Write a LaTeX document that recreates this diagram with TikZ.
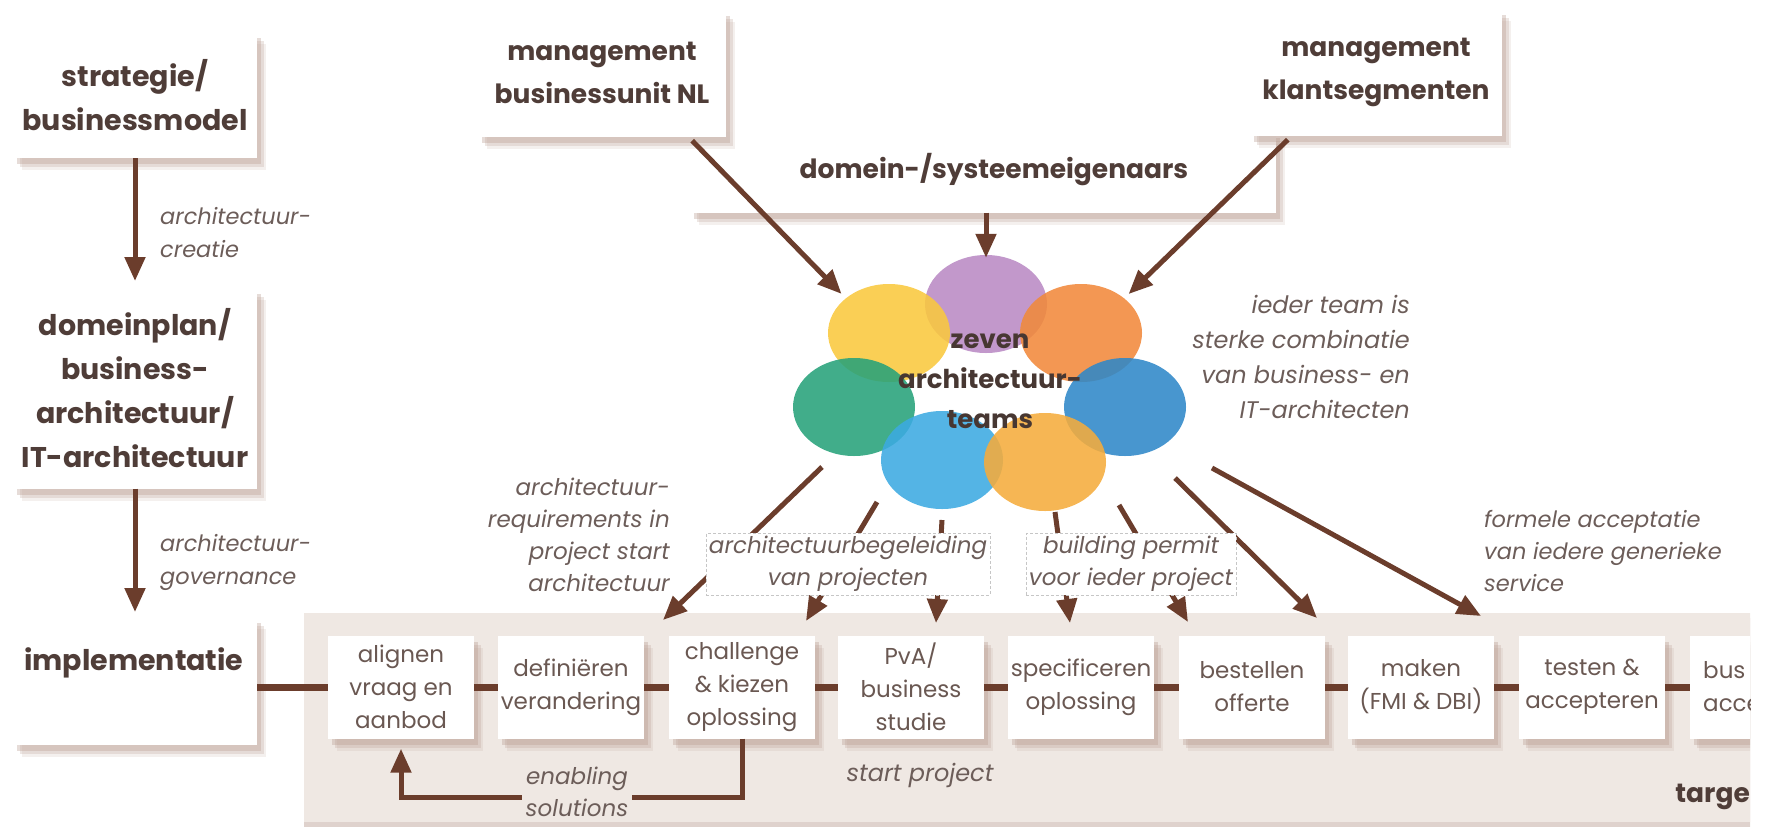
\documentclass[tikz,border=0pt]{standalone}
\usepackage{fontspec}
\setmainfont{Poppins}
\usetikzlibrary{arrows.meta,positioning,shadows,calc,shapes.geometric}

\definecolor{txt}{HTML}{4F3D38}
\definecolor{steptxt}{HTML}{6A5852}
\definecolor{notetxt}{HTML}{6C5D59}
\definecolor{brn}{HTML}{6B3D2C}
\definecolor{panel}{HTML}{EFE8E3}
\definecolor{shade}{HTML}{B89C90}
\definecolor{tpurple}{HTML}{B98AC4}
\definecolor{tyellow}{HTML}{F9C83E}
\definecolor{torange}{HTML}{F1893B}
\definecolor{tgreen}{HTML}{27A27A}
\definecolor{tblue}{HTML}{2F87C8}
\definecolor{tsky}{HTML}{3CAAE1}
\definecolor{tamber}{HTML}{F5AC3C}

\begin{document}
\begin{tikzpicture}[x=1pt,y=-1pt,>=Stealth]
  \tikzset{
    soft/.style={
      drop shadow={shadow xshift=9pt, shadow yshift=-12pt, fill=shade, opacity=.15},
      drop shadow={shadow xshift=7pt, shadow yshift=-9pt, fill=shade, opacity=.25},
      drop shadow={shadow xshift=4pt, shadow yshift=-6pt, fill=shade, opacity=.35}},
    box/.style={fill=white, inner sep=0pt, align=center, soft},
    heading/.style={text=txt, align=center, font=\bfseries\fontsize{26.5}{43}\selectfont},
    sideheading/.style={heading, font=\bfseries\fontsize{28.5}{44}\selectfont},
    bigbox/.style={box, heading},
    stepbox/.style={box, minimum width=146pt, minimum height=103pt, text=steptxt,
      font=\fontsize{23}{33}\selectfont},
    note/.style={text=notetxt, inner sep=0pt, font=\itshape\fontsize{23}{32}\selectfont},
    halo/.style={fill=white, draw=gray!45, densely dashed, line width=.5pt, inner sep=3pt},
    arr/.style={draw=brn, line width=5pt, -{Triangle[length=24pt,width=20pt]}},
    link/.style={draw=brn, line width=7pt},
    team/.style={ellipse, minimum width=122pt, minimum height=98pt, inner sep=0pt, opacity=.88}
  }
  \useasboundingbox (0,0) rectangle (1768,833);

  % left column
  \node[bigbox, sideheading, minimum width=244pt, minimum height=126pt] (strat) at (135,95) {strategie/\\businessmodel};
  \node[bigbox, sideheading, minimum width=244pt, minimum height=201pt] (domplan) at (135,388) {domeinplan/\\business-\\architectuur/\\IT-architectuur};
  \node[box, minimum width=244pt, minimum height=128pt] (impl) at (135,681) {};
  \node[sideheading, anchor=west, inner sep=0pt] (implTxt) at (24,663) {implementatie};
  \draw[arr] (strat) -- (domplan.north |- 0,281) coordinate (creTip);
  \draw[arr] (domplan) -- (impl.north |- 0,612) coordinate (govTip);
  \node[note, anchor=west, align=left, font=\itshape\fontsize{22.5}{33}\selectfont] (creLab) at (160,233) {architectuur-\\creatie};
  \node[note, anchor=west, align=left, font=\itshape\fontsize{22.5}{33}\selectfont] (govLab) at (160,562) {architectuur-\\governance};

  % top
  \node[box, minimum width=586pt, minimum height=81pt] (owners) at (983,172) {};
  \node[heading, inner sep=0pt] (ownersTxt) at (994,170) {domein-/systeemeigenaars};
  \node[bigbox, minimum width=248pt, minimum height=127pt] (mgtBU) at (602,73) {management\\businessunit NL};
  \node[bigbox, minimum width=252pt, minimum height=127pt] (mgtKS) at (1376,72) {management\\klantsegmenten};

  % teams
  \foreach \n/\c/\x/\y in {t1/tpurple/986/304, t2/tyellow/889/333, t3/torange/1081/333,
      t4/tgreen/854/407, t5/tblue/1125/407, t6/tsky/942/460, t7/tamber/1045/462}
    \node[team, fill=\c] (\n) at (\x,\y) {};
  \node[heading, text=txt!90!black, inner sep=0pt, font=\bfseries\fontsize{26}{40}\selectfont] (teams) at (990,381) {zeven\\architectuur-\\teams};
  \node[note, align=right, anchor=east, font=\itshape\fontsize{24}{35}\selectfont] (teamNote) at (1410,357)
    {ieder team is\\sterke combinatie\\van business- en\\IT-architecten};

  \draw[arr, shorten >=6pt] ($(mgtBU.south east)+(-34,4)$) -- (t2.north west);
  \draw[arr] (owners.south -| t1) -- ($(t1.north)+(0,3)$);
  \draw[arr, shorten >=6pt] ($(mgtKS.south west)+(38,4)$) -- (t3.north east);

  % lower panel
  \begin{scope}
    \clip (0,0) rectangle (1750,833);
    \node[fill=panel, minimum width=1460pt, minimum height=209pt, inner sep=0pt,
      drop shadow={shadow xshift=0pt, shadow yshift=-5pt, fill=shade, opacity=.45}] (panel) at (1034,717) {};
    \node[heading, anchor=east, inner sep=0pt] (targe) at (1750,797) {targe};
    \foreach \n/\x/\t in {s1/401/{alignen\\vraag en\\aanbod}, s2/571/{definiëren\\verandering},
        s3/742/{challenge\\\& kiezen\\oplossing}, s4/911/{PvA/\\business\\studie},
        s5/1081/{specificeren\\oplossing}, s6/1252/{bestellen\\offerte},
        s7/1421/{maken\\(FMI \& DBI)}, s8/1592/{testen \&\\accepteren}, s9/1763/{}}
      \node[stepbox] (\n) at (\x,687) {\t};
    \node[text=steptxt, anchor=west, align=left, inner sep=0pt, font=\fontsize{23}{33}\selectfont] (s9Txt) at (1703,687) {bus\\acce};
    \foreach \a/\b in {s1/s2, s2/s3, s3/s4, s4/s5, s5/s6, s6/s7, s7/s8, s8/s9}
      \draw[link] (\a) -- (\b);
  \end{scope}
  \draw[link] (s1.west -| impl.east) -- (s1.west);

  % feedback loop
  \draw[arr] (s3.south) -- ++(0,59) -| ($(s1.south)+(0,10)$);
  \node[note, fill=panel, align=center, inner sep=4pt] (enabLab) at (577,792) {enabling\\solutions};
  \node[note, font=\itshape\fontsize{24}{32}\selectfont] (startLab) at (920,775) {start project};

  % arrows to the steps
  \foreach \i/\sx/\sy/\ex/\ey in {1/822/467/663/620, 2/877/502/806/621, 3/942/520/936/623,
      4/1055/512/1070/623, 5/1119/505/1188/622, 6/1175/478/1317/618, 7/1212/468/1481/616}{
    \coordinate (from\i) at (\sx,\sy);
    \coordinate (to\i) at (\ex,\ey);
    \draw[arr] (from\i) -- (to\i);
  }
  \node[note, align=right, anchor=east] (reqLab) at (670,535)
    {architectuur-\\requirements in\\project start\\architectuur};
  \node[note, halo, align=center] (begLab) at (848,564) {architectuurbegeleiding\\van projecten};
  \node[note, halo, align=center] (permLab) at (1131,564) {building permit\\voor ieder project};
  \node[note, align=left, anchor=west, font=\itshape\fontsize{22.5}{32}\selectfont] (accLab) at (1484,551)
    {formele acceptatie\\van iedere generieke\\service};
\end{tikzpicture}
\end{document}
